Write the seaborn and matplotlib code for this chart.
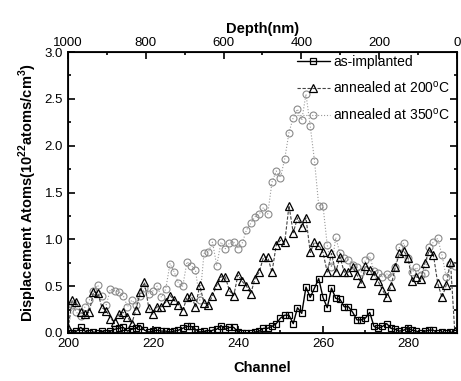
import numpy as np
import pandas as pd
import matplotlib
matplotlib.use('Agg')
import matplotlib.pyplot as plt
import seaborn as sns
from matplotlib.ticker import MultipleLocator

# channels 200..291
channels = list(range(200, 292))

as_implanted = [0.0, 0.0, 0.02, 0.06, 0.02, 0.0, 0.01, 0.0, 0.02, 0.0,
                0.02, 0.04, 0.05, 0.06, 0.02, 0.04, 0.05, 0.08, 0.03, 0.01,
                0.02, 0.03, 0.02, 0.02, 0.01, 0.02, 0.03, 0.05, 0.07, 0.07,
                0.04, 0.01, 0.02, 0.0, 0.03, 0.04, 0.08, 0.04, 0.06, 0.06,
                0.01, 0.0, 0.0, 0.0, 0.01, 0.02, 0.05, 0.05, 0.07, 0.10,
                0.16, 0.19, 0.19, 0.10, 0.27, 0.21, 0.49, 0.38, 0.48, 0.58,
                0.38, 0.27, 0.48, 0.37, 0.36, 0.28, 0.28, 0.22, 0.14, 0.14,
                0.16, 0.22, 0.07, 0.05, 0.07, 0.10, 0.05, 0.04, 0.02, 0.03,
                0.05, 0.03, 0.02, 0.0, 0.02, 0.03, 0.03, 0.0, 0.01, 0.0,
                0.01, 0.0]

annealed_200 = [0.05, 0.35, 0.33, 0.22, 0.20, 0.22, 0.44, 0.43, 0.27, 0.24,
                0.15, 0.12, 0.20, 0.22, 0.17, 0.10, 0.25, 0.44, 0.54, 0.27,
                0.20, 0.28, 0.28, 0.33, 0.40, 0.35, 0.30, 0.24, 0.38, 0.40,
                0.28, 0.51, 0.32, 0.30, 0.40, 0.51, 0.60, 0.60, 0.45, 0.40,
                0.62, 0.55, 0.50, 0.42, 0.58, 0.65, 0.81, 0.81, 0.65, 0.94,
                0.99, 0.97, 1.36, 1.07, 1.23, 1.13, 1.23, 0.86, 0.97, 0.94,
                0.86, 0.65, 0.85, 0.65, 0.81, 0.65, 0.65, 0.70, 0.62, 0.53,
                0.72, 0.67, 0.62, 0.55, 0.46, 0.38, 0.50, 0.70, 0.85, 0.88,
                0.80, 0.56, 0.60, 0.58, 0.75, 0.88, 0.83, 0.53, 0.38, 0.51,
                0.76, 0.02]

annealed_350 = [0.02, 0.30, 0.22, 0.18, 0.28, 0.35, 0.45, 0.51, 0.40, 0.30,
                0.47, 0.45, 0.44, 0.40, 0.28, 0.35, 0.30, 0.40, 0.48, 0.42,
                0.45, 0.50, 0.38, 0.47, 0.74, 0.65, 0.53, 0.50, 0.76, 0.72,
                0.67, 0.35, 0.85, 0.86, 0.97, 0.72, 0.97, 0.90, 0.96, 0.97,
                0.90, 0.96, 1.10, 1.17, 1.24, 1.27, 1.34, 1.27, 1.61, 1.73,
                1.66, 1.86, 2.14, 2.30, 2.39, 2.27, 2.55, 2.21, 1.84, 1.36,
                1.36, 0.94, 0.70, 1.02, 0.85, 0.80, 0.78, 0.73, 0.70, 0.65,
                0.78, 0.82, 0.66, 0.64, 0.60, 0.63, 0.60, 0.70, 0.92, 0.96,
                0.80, 0.65, 0.70, 0.62, 0.64, 0.92, 0.97, 1.01, 0.83, 0.60,
                0.74, 0.72]

depth_ticks = [1000, 800, 600, 400, 200, 0]

sns.set_style('ticks')
plt.rcParams['font.family'] = ['Liberation Sans', 'DejaVu Sans']
plt.rcParams['mathtext.fontset'] = 'custom'
plt.rcParams['mathtext.rm'] = 'Liberation Sans'
plt.rcParams['mathtext.bf'] = 'Liberation Sans:bold'
for key in ['text.color', 'axes.labelcolor', 'xtick.color', 'ytick.color', 'axes.edgecolor']:
    plt.rcParams[key] = 'black'

df = pd.DataFrame({'Channel': channels, 'as': as_implanted,
                   'a200': annealed_200, 'a350': annealed_350})

fig = plt.figure(figsize=(4.61, 3.81), dpi=100)
ax = fig.add_axes([0.1475, 0.126, 0.8435, 0.7375])

sns.lineplot(data=df, x='Channel', y='a350', ax=ax, color='#9a9a9a', lw=0.8,
             linestyle=':', marker='o', markersize=5, markerfacecolor='none',
             markeredgecolor='#8a8a8a', markeredgewidth=0.8,
             label='annealed at 350$^{\\mathrm{o}}$C')
sns.lineplot(data=df, x='Channel', y='a200', ax=ax, color='#444444', lw=0.8,
             linestyle=(0, (3, 1.5)), marker='^', markersize=5.5, markerfacecolor='none',
             markeredgecolor='black', markeredgewidth=0.9,
             label='annealed at 200$^{\\mathrm{o}}$C')
sns.lineplot(data=df, x='Channel', y='as', ax=ax, color='black', lw=1.0,
             marker='s', markersize=5, markerfacecolor='none',
             markeredgecolor='black', markeredgewidth=0.9,
             label='as-implanted')

ax.set_xlim(200, 291.5)
ax.set_ylim(0, 3.0)
ax.xaxis.set_major_locator(MultipleLocator(20))
ax.xaxis.set_minor_locator(MultipleLocator(10))
ax.yaxis.set_major_locator(MultipleLocator(0.5))
ax.yaxis.set_minor_locator(MultipleLocator(0.25))
ax.yaxis.set_major_formatter(matplotlib.ticker.FormatStrFormatter('%.1f'))
ax.tick_params(which='both', direction='in', right=True, labelsize=9.5, width=1.2)
ax.tick_params(which='major', length=5)
ax.tick_params(which='minor', length=2.5)
for s in ax.spines.values():
    s.set_linewidth(1.3)

ax.set_xlabel('Channel', fontsize=10.5, fontweight='bold', labelpad=8)
ax.set_ylabel('Displacement Atoms(10$^{\\mathbf{22}}$atoms/cm$^{\\mathbf{3}}$)',
              fontsize=10.5, fontweight='bold', labelpad=4)

ax2 = ax.twiny()
ax2.set_xlim(1000, 0)
ax2.set_xticks(depth_ticks)
ax2.xaxis.set_minor_locator(MultipleLocator(100))
ax2.tick_params(which='both', direction='in', labelsize=9.5, width=1.2, pad=2)
ax2.tick_params(which='major', length=5)
ax2.tick_params(which='minor', length=2.5)
ax2.set_xlabel('Depth(nm)', fontsize=10.5, fontweight='bold', labelpad=3)

handles, labels = ax.get_legend_handles_labels()
ax.legend(handles[::-1], labels[::-1], loc='upper right', frameon=False,
          fontsize=10, labelspacing=0.8, handlelength=2.4, handletextpad=0.2,
          borderaxespad=0.1, bbox_to_anchor=(1.0, 1.015))

fig.savefig('out.png', dpi=100)
